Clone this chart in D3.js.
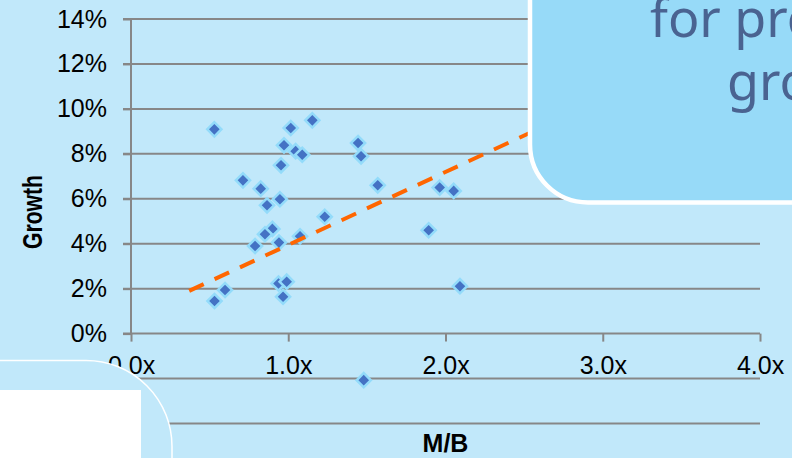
<!DOCTYPE html>
<html>
<head>
<meta charset="utf-8">
<script src="https://cdn.jsdelivr.net/npm/d3@7"></script>
<style>
  html, body { margin: 0; padding: 0; background: #C1E8FA; }
  svg { display: block; }
</style>
</head>
<body>
<svg id="chart" width="792" height="458"></svg>
<script>
// ---- data ----
const mbValues = [0.53, 1.016, 1.153, 0.973, 1.047, 1.089, 0.954, 1.444, 1.463, 0.712,
                  0.825, 0.947, 0.865, 1.569, 1.963, 2.052, 1.232, 1.893, 0.899, 0.852,
                  0.941, 1.075, 0.789, 0.598, 0.531, 0.938, 0.99, 0.967, 2.092, 1.48];
const growthValues = [9.09, 9.15, 9.49, 8.38, 8.12, 7.96, 7.49, 8.48, 7.89, 6.82,
                      6.45, 5.98, 5.71, 6.6, 6.5, 6.35, 5.2, 4.6, 4.66, 4.42,
                      4.05, 4.33, 3.9, 1.94, 1.45, 2.23, 2.31, 1.64, 2.11, -2.07];
const trendX = [0.37, 2.8];
const trendY = [1.90, 9.79];
const yTicks = [0, 2, 4, 6, 8, 10, 12, 14];
const yGrid = [-4, -2, 2, 4, 6, 8, 10, 12, 14];
const xTicks = [0, 1, 2, 3, 4];
const xTickLabels = ["0.0x", "1.0x", "2.0x", "3.0x", "4.0x"];
const yTitle = "Growth";
const xTitle = "M/B";
const calloutLines = ["for pro", "gro"];

// ---- drawing ----
const svg = d3.select("#chart");
const W = 792, H = 458;
const bg = "#C1E8FA";
svg.append("rect").attr("width", W).attr("height", H).attr("fill", bg);

const x = d3.scaleLinear().domain([0, 4]).range([131, 760]);
const y = d3.scaleLinear().domain([-4, 14]).range([423.5, 19]);
const grid = "#878787";

// gridlines
svg.append("g").selectAll("line").data(yGrid).join("line")
  .attr("x1", d => d >= 0 ? 123 : x(0)).attr("x2", x(4))
  .attr("y1", d => y(d)).attr("y2", d => y(d))
  .attr("stroke", grid).attr("stroke-width", 2);

// x axis (at 0)
const xAxis = d3.axisBottom(x).tickValues(xTicks).tickSize(8).tickFormat((d, i) => xTickLabels[i]);
const gx = svg.append("g").attr("transform", `translate(0,${y(0)})`).call(xAxis);
gx.select(".domain").attr("stroke", grid).attr("stroke-width", 2).attr("d", `M123,0H${x(4)}`);
gx.selectAll(".tick line").attr("stroke", grid).attr("stroke-width", 2);
gx.selectAll(".tick text")
  .attr("y", 40).attr("dy", 0)
  .attr("fill", "#000")
  .style("font-family", "'Liberation Sans', Arial, sans-serif")
  .style("font-size", "25px");

// y axis
const yAxis = d3.axisLeft(y).tickValues(yTicks).tickSize(8).tickPadding(16).tickFormat(d => d + "%");
const gy = svg.append("g").attr("transform", `translate(${x(0)},0)`).call(yAxis);
gy.select(".domain").attr("stroke", grid).attr("stroke-width", 2).attr("d", `M0,${y(14)}V${y(0)}`);
gy.selectAll(".tick line").attr("stroke", grid).attr("stroke-width", 2);
gy.selectAll(".tick text")
  .attr("dy", 0).attr("y", 8)
  .attr("fill", "#000")
  .style("font-family", "'Liberation Sans', Arial, sans-serif")
  .style("font-size", "25px");

// points
const pts = mbValues.map((v, i) => ({ mb: v, g: growthValues[i] }));
const sym = d3.symbol().type(d3.symbolSquare).size(100);
svg.append("g").selectAll("path").data(pts).join("path")
  .attr("d", sym)
  .attr("transform", d => `translate(${x(d.mb)},${y(d.g)}) rotate(45)`)
  .attr("fill", "#4472C4")
  .attr("stroke", "#93DBFA")
  .attr("stroke-width", 2.5);

// trendline
const line = d3.line().x(d => x(d[0])).y(d => y(d[1]));
svg.append("path")
  .datum(trendX.map((v, i) => [v, trendY[i]]))
  .attr("d", line)
  .attr("fill", "none")
  .attr("stroke", "#FF6600")
  .attr("stroke-width", 4)
  .attr("stroke-dasharray", "16,12");

// axis titles
svg.append("text")
  .attr("transform", "translate(42,212) rotate(-90)")
  .attr("text-anchor", "middle")
  .attr("textLength", 74).attr("lengthAdjust", "spacingAndGlyphs")
  .style("font-family", "'Liberation Sans', Arial, sans-serif")
  .style("font-size", "27px").style("font-weight", "bold")
  .text(yTitle);
svg.append("text")
  .attr("x", (x(0) + x(4)) / 2).attr("y", 452)
  .attr("text-anchor", "middle")
  .style("font-family", "'Liberation Sans', Arial, sans-serif")
  .style("font-size", "25px").style("font-weight", "bold")
  .text(xTitle);

// bottom-left overlay box
svg.append("rect")
  .attr("x", -120).attr("y", 360.5).attr("width", 292).attr("height", 220).attr("rx", 86)
  .attr("fill", bg).attr("stroke", "#fff").attr("stroke-width", 1.5);
svg.append("rect")
  .attr("x", 0).attr("y", 390).attr("width", 141).attr("height", 70)
  .attr("fill", "#fff");

// top-right callout
svg.append("rect")
  .attr("x", 530).attr("y", -120).attr("width", 400).attr("height", 322.5).attr("rx", 58)
  .attr("fill", "#97DAF8").attr("stroke", "#fff").attr("stroke-width", 4.5);
svg.append("g").selectAll("text").data(calloutLines).join("text")
  .attr("x", (d, i) => i === 0 ? 650 : 727)
  .attr("y", (d, i) => i === 0 ? 37 : 100)
  .attr("fill", "#4A6391")
  .style("font-family", "'Noto Sans', sans-serif")
  .style("font-size", "52px")
  .text(d => d);
</script>
</body>
</html>
